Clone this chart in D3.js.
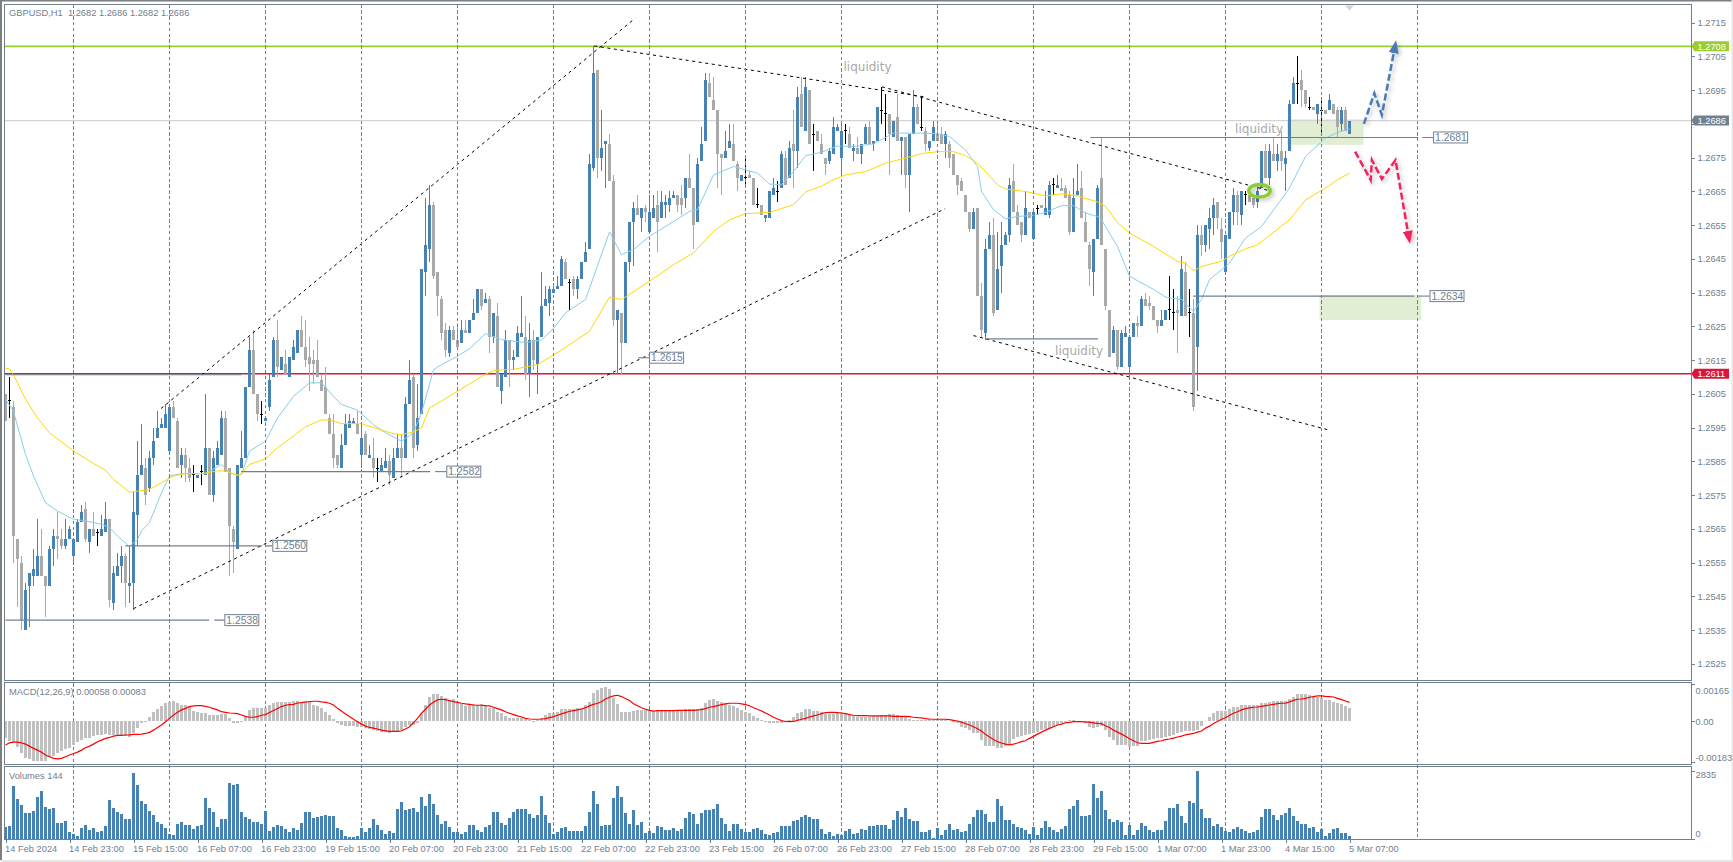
<!DOCTYPE html>
<html>

<head>
  <meta charset="utf-8">
  <style>
    html, body { margin: 0; padding: 0; background: #fff; overflow: hidden; }
    svg { display: block; }
    text { font-family: "Liberation Sans", sans-serif; font-size: 9.3px; fill: #708090; }
    .flag { fill: #fff; }
    .liq { fill: #a9a9a9; font-size: 12px; font-family: "DejaVu Sans", sans-serif; }
  </style>
</head>

<body>
  <svg id="chart" width="1733" height="862"></svg>

  <script src="https://d3js.org/d3.v7.min.js"></script>
  <script>
    // prices are 4-digit quotes written without the "1." (2605 = 1.2605), one row = 16 H1 bars
    const opens = [
      2605,2603,2601,2562,2555,2535,2548,2551,2551,2557,2551,2548,2559,2563,2562,2560,
      2562,2557,2561,2567,2571,2561,2565,2564,2563,2564,2568,2543,2551,2554,2557,2548,
      2549,2569,2581,2583,2577,2586,2592,2595,2595,2588,2601,2597,2584,2587,2583,2581,
      2580,2582,2581,2589,2575,2584,2587,2598,2583,2565,2559,2583,2586,2607,2618,2605,
      2599,2597,2601,2610,2621,2612,2614,2610,2615,2617,2624,2619,2616,2615,2615,2609,
      2607,2598,2593,2587,2583,2590,2595,2596,2596,2587,2593,2586,2586,2583,2582,2583,
      2585,2580,2586,2589,2586,2602,2610,2590,2599,2641,2648,2661,2641,2633,2624,2617,
      2624,2621,2620,2624,2623,2627,2629,2636,2632,2633,2622,2628,2606,2610,2621,2615,
      2616,2622,2622,2611,2621,2614,2622,2631,2632,2635,2636,2637,2644,2638,2639,2636,
      2639,2644,2648,2672,2701,2675,2679,2679,2668,2627,2629,2620,2644,2656,2660,2657,
      2660,2653,2657,2661,2657,2661,2661,2663,2664,2663,2663,2669,2666,2656,2674,2680,
      2697,2692,2689,2676,2675,2678,2679,2673,2668,2669,2670,2669,2661,2661,2657,2657,
      2664,2665,2666,2675,2669,2679,2677,2694,2683,2695,2682,2683,2679,2675,2674,2676,
      2683,2675,2683,2682,2677,2678,2676,2679,2684,2679,2680,2689,2688,2688,2681,2687,
      2680,2681,2670,2682,2690,2684,2683,2678,2680,2682,2682,2679,2679,2676,2670,2668,
      2664,2659,2654,2660,2634,2623,2648,2652,2630,2643,2649,2652,2668,2659,2656,2652,
      2659,2651,2660,2661,2658,2658,2667,2666,2666,2666,2664,2653,2664,2666,2656,2649,
      2641,2651,2669,2648,2630,2617,2624,2613,2622,2613,2622,2626,2625,2633,2632,2631,
      2627,2625,2627,2630,2629,2630,2628,2641,2629,2629,2619,2652,2649,2654,2657,2662,
      2654,2641,2651,2659,2664,2658,2664,2664,2663,2662,2666,2677,2669,2676,2674,2677,
      2673,2677,2691,2697,2698,2695,2690,2690,2688,2689,2689,2689,2691,2689,2685,2689,
      2682
    ];
    const highs = [
      2605,2610,2603,2562,2557,2549,2552,2559,2568,2565,2551,2560,2565,2570,2565,2568,
      2566,2562,2568,2572,2573,2565,2570,2565,2569,2573,2568,2554,2558,2560,2558,2560,
      2576,2591,2596,2586,2588,2595,2600,2598,2602,2602,2603,2598,2589,2589,2586,2584,
      2581,2584,2605,2589,2588,2591,2600,2600,2583,2566,2584,2594,2607,2622,2624,2605,
      2603,2598,2611,2622,2627,2616,2618,2616,2621,2624,2628,2627,2622,2618,2621,2611,
      2613,2599,2599,2587,2593,2599,2599,2598,2600,2596,2594,2590,2592,2586,2586,2589,
      2587,2589,2593,2593,2604,2615,2611,2608,2642,2663,2667,2662,2641,2634,2626,2625,
      2625,2626,2627,2627,2627,2633,2636,2636,2635,2634,2629,2632,2611,2624,2621,2618,
      2625,2634,2628,2626,2624,2622,2641,2637,2637,2637,2640,2646,2645,2639,2640,2640,
      2644,2650,2676,2708,2701,2689,2680,2682,2670,2630,2629,2644,2656,2662,2664,2660,
      2661,2664,2664,2665,2665,2664,2665,2665,2664,2667,2669,2676,2666,2675,2684,2700,
      2700,2699,2689,2676,2683,2685,2685,2674,2670,2675,2671,2669,2666,2661,2658,2665,
      2669,2668,2677,2677,2680,2689,2696,2699,2699,2695,2685,2683,2682,2675,2678,2687,
      2685,2685,2685,2684,2679,2681,2679,2685,2686,2680,2690,2696,2694,2688,2686,2694,
      2681,2681,2682,2695,2691,2693,2684,2680,2686,2685,2684,2683,2680,2676,2670,2669,
      2664,2659,2660,2660,2638,2651,2656,2657,2653,2656,2653,2669,2673,2661,2656,2665,
      2659,2660,2661,2661,2665,2668,2669,2670,2669,2667,2665,2669,2673,2671,2659,2650,
      2651,2667,2681,2648,2630,2625,2624,2624,2625,2622,2626,2628,2634,2635,2634,2631,
      2627,2630,2630,2640,2636,2634,2646,2644,2636,2633,2655,2655,2655,2660,2663,2662,
      2657,2652,2659,2666,2665,2665,2665,2664,2664,2667,2677,2679,2679,2681,2679,2683,
      2677,2692,2699,2705,2701,2695,2693,2690,2691,2692,2689,2694,2691,2690,2690,2690,
      2686
    ];
    const lows = [
      2597,2598,2555,2542,2535,2535,2536,2548,2551,2551,2539,2548,2554,2556,2559,2559,
      2562,2555,2561,2567,2561,2558,2563,2560,2563,2564,2542,2541,2551,2549,2542,2543,
      2541,2560,2581,2572,2576,2584,2592,2595,2595,2588,2598,2583,2580,2579,2579,2576,
      2580,2578,2581,2575,2573,2584,2587,2582,2551,2552,2559,2583,2586,2607,2605,2597,
      2596,2597,2600,2610,2610,2612,2611,2610,2615,2617,2619,2613,2606,2608,2610,2606,
      2599,2593,2583,2583,2583,2590,2595,2596,2593,2583,2587,2586,2580,2579,2582,2583,
      2578,2580,2586,2580,2586,2602,2586,2588,2599,2634,2644,2639,2628,2621,2616,2616,
      2621,2619,2620,2623,2623,2627,2629,2630,2632,2617,2620,2607,2602,2610,2607,2612,
      2616,2622,2609,2604,2612,2605,2622,2631,2628,2635,2636,2637,2639,2630,2634,2633,
      2639,2644,2648,2671,2669,2671,2666,2668,2625,2611,2611,2620,2641,2643,2658,2653,
      2656,2653,2657,2647,2657,2657,2659,2663,2659,2658,2660,2666,2648,2656,2674,2680,
      2693,2689,2666,2664,2675,2678,2674,2665,2668,2667,2669,2661,2660,2658,2656,2657,
      2664,2662,2666,2667,2669,2666,2672,2684,2683,2679,2671,2680,2676,2670,2673,2676,
      2683,2670,2679,2678,2674,2676,2673,2679,2679,2677,2680,2685,2680,2670,2681,2680,
      2670,2666,2659,2682,2685,2683,2677,2677,2680,2680,2679,2675,2672,2670,2664,2665,
      2659,2653,2654,2634,2622,2621,2648,2628,2630,2635,2649,2650,2659,2655,2650,2652,
      2657,2651,2658,2660,2658,2657,2664,2666,2665,2663,2652,2653,2664,2657,2650,2637,
      2634,2651,2649,2630,2616,2617,2612,2613,2622,2609,2622,2622,2625,2631,2630,2627,
      2623,2625,2627,2627,2624,2617,2628,2628,2622,2600,2606,2646,2647,2648,2652,2654,
      2645,2641,2651,2655,2655,2655,2661,2662,2660,2660,2666,2669,2667,2674,2671,2671,
      2665,2677,2691,2691,2690,2690,2689,2689,2685,2682,2688,2689,2688,2681,2683,2683,
      2682
    ];
    const closes = [
      2597,2603,2563,2556,2538,2547,2552,2553,2557,2551,2548,2559,2563,2562,2560,2562,
      2565,2562,2567,2570,2562,2565,2563,2564,2565,2568,2544,2552,2554,2557,2549,2549,
      2570,2581,2584,2575,2586,2591,2595,2596,2599,2601,2598,2583,2587,2583,2580,2581,
      2581,2582,2589,2575,2586,2589,2598,2582,2566,2561,2584,2586,2607,2618,2605,2599,
      2599,2598,2609,2621,2613,2616,2611,2616,2619,2624,2619,2615,2614,2614,2610,2606,
      2599,2593,2586,2584,2590,2596,2597,2597,2593,2592,2587,2587,2583,2583,2584,2585,
      2581,2586,2589,2586,2602,2609,2589,2598,2642,2649,2661,2640,2634,2623,2618,2624,
      2621,2619,2624,2623,2627,2629,2636,2631,2633,2622,2629,2607,2611,2621,2615,2616,
      2623,2623,2611,2621,2615,2622,2631,2633,2636,2636,2637,2645,2639,2638,2636,2639,
      2644,2647,2673,2700,2675,2678,2680,2668,2627,2630,2620,2644,2656,2660,2658,2660,
      2659,2659,2660,2656,2662,2662,2663,2664,2661,2661,2669,2666,2655,2673,2679,2698,
      2693,2689,2676,2675,2677,2680,2674,2669,2670,2669,2669,2661,2661,2658,2658,2665,
      2666,2665,2676,2667,2678,2677,2693,2684,2696,2679,2682,2680,2676,2673,2677,2684,
      2684,2683,2683,2678,2678,2676,2679,2684,2679,2680,2690,2689,2688,2682,2686,2680,
      2681,2670,2682,2690,2685,2684,2679,2680,2684,2680,2679,2682,2675,2670,2667,2665,
      2659,2654,2659,2634,2624,2648,2652,2629,2642,2649,2652,2667,2659,2655,2652,2660,
      2657,2659,2660,2660,2660,2667,2667,2667,2665,2663,2653,2663,2665,2657,2650,2642,
      2651,2666,2649,2631,2616,2624,2613,2623,2623,2622,2626,2625,2633,2631,2631,2627,
      2625,2627,2630,2630,2629,2629,2642,2628,2629,2601,2652,2649,2655,2657,2661,2657,
      2650,2652,2659,2664,2659,2665,2664,2662,2661,2665,2677,2669,2677,2674,2676,2674,
      2675,2691,2697,2697,2695,2691,2690,2689,2691,2689,2688,2692,2688,2684,2689,2683,
      2686
    ];

    const volumes = [
      476,518,2226,1680,1428,1092,1092,1176,1764,2016,1344,1260,1302,672,672,756,
      280,210,126,462,588,378,462,294,336,546,1638,1302,1134,1050,840,840,
      2772,2268,1596,1470,1176,1008,714,630,462,210,168,630,714,588,588,420,
      546,588,1722,1302,1134,504,840,840,2352,2268,2310,1134,924,840,714,714,
      630,1176,336,504,588,546,420,294,462,378,672,1134,1134,882,924,966,
      1008,966,966,462,378,126,84,84,126,462,294,462,840,588,378,210,
      336,252,1260,1554,1218,1260,1302,1134,1764,1386,1890,1470,1008,630,756,504,
      294,294,210,294,588,588,378,294,504,588,1134,1134,672,588,882,1134,
      1260,1260,1260,1050,882,1008,1806,1008,672,210,294,462,504,336,336,336,
      336,546,1134,2016,1470,546,574,588,1722,2226,1764,1092,630,1218,588,714,
      252,336,252,546,504,378,378,462,336,420,882,1134,1050,630,1092,1218,
      1218,1260,1470,882,630,336,630,630,420,294,294,420,462,378,210,168,
      252,294,546,546,546,756,798,924,1008,924,840,840,420,210,294,126,
      210,168,336,420,210,252,420,378,546,546,588,588,588,420,798,1176,
      924,1302,840,756,756,294,294,378,28,462,168,378,630,378,420,294,
      336,630,924,1218,1218,1050,714,714,1680,1386,798,798,630,504,462,378,
      210,504,168,462,756,504,378,294,420,546,1260,1386,1638,966,966,1008,
      2310,1722,2016,1218,840,714,798,714,168,588,168,378,672,546,378,294,
      378,378,756,1302,1302,1470,966,672,1596,1512,2835,1260,882,882,546,630,
      504,336,294,420,504,420,336,252,294,378,924,1260,1260,1008,798,1008,
      1092,1302,966,756,630,630,462,504,294,420,126,252,420,462,252,252,
      126
    ];

    // MACD main (bars) and signal (line), in 0.00001
    const macdHist = [
      -78,-89,-98,-116,-146,-168,-173,-179,-179,-180,-179,-164,-158,-143,-134,-128,
      -123,-108,-93,-86,-78,-75,-68,-63,-63,-59,-63,-63,-63,-68,-68,-71,
      -56,-33,-11,-3,20,42,53,68,80,87,90,80,72,72,62,47,
      42,38,38,27,27,27,30,30,15,-8,-8,-3,20,50,57,57,
      57,60,72,83,84,84,84,84,90,92,87,84,84,72,68,57,
      42,27,8,-11,-18,-21,-21,-21,-26,-29,-33,-38,-41,-45,-48,-51,
      -56,-51,-48,-41,-29,-18,-18,-11,30,72,107,122,122,113,102,92,
      98,80,75,68,71,75,74,75,74,60,60,42,35,23,12,15,
      15,12,8,5,-3,5,12,27,35,38,41,53,54,54,54,60,
      60,72,87,128,140,147,152,143,102,77,42,39,42,47,50,50,
      50,47,47,50,50,50,50,50,50,50,53,53,53,53,57,80,
      95,98,92,87,80,72,68,60,50,42,35,24,15,5,-3,-8,
      -11,-11,-11,-3,5,17,35,42,53,53,47,47,39,32,30,30,
      35,38,35,30,24,20,20,20,20,23,24,27,27,32,30,27,
      23,20,8,5,5,5,5,8,5,5,5,5,2,-3,-11,-26,
      -33,-41,-56,-56,-86,-113,-113,-113,-120,-120,-113,-108,-83,-71,-66,-63,
      -60,-56,-48,-41,-36,-33,-29,-18,-8,-3,5,5,2,-3,-11,-26,
      -33,-26,-23,-41,-71,-86,-108,-108,-108,-116,-113,-113,-90,-89,-86,-83,
      -78,-78,-71,-68,-63,-56,-48,-45,-45,-45,-41,-23,2,17,35,45,
      45,45,53,62,62,72,72,72,72,72,83,80,84,89,90,90,
      90,98,110,122,122,122,117,114,110,105,95,95,87,80,75,68,
      58
    ];
    const macdSignal = [
      -108,-98,-95,-95,-98,-104,-113,-123,-131,-141,-153,-161,-168,-170,-168,-161,
      -153,-146,-140,-131,-120,-113,-104,-93,-86,-78,-74,-68,-65,-65,-63,-62,
      -60,-60,-59,-56,-51,-41,-29,-18,-3,12,27,39,50,57,65,68,
      69,69,66,62,56,50,42,39,36,35,33,27,21,17,17,20,
      26,29,38,47,56,65,71,74,75,81,83,86,87,89,89,86,
      84,80,72,57,45,32,20,8,-3,-14,-23,-29,-32,-36,-41,-44,
      -47,-47,-47,-44,-36,-26,-8,12,35,53,72,84,95,98,96,92,
      87,84,80,77,75,72,71,71,69,68,62,56,50,42,35,29,
      23,18,12,9,8,8,9,11,15,20,26,32,38,44,47,50,
      54,60,68,75,80,87,99,107,113,116,110,101,92,78,69,60,
      53,48,45,47,47,47,47,47,48,48,48,48,48,50,51,56,
      62,65,69,74,77,80,80,80,77,74,69,60,53,45,36,27,
      17,9,2,-2,-3,-2,3,8,12,18,23,27,33,38,39,39,
      38,36,33,29,26,24,24,24,23,23,23,23,23,23,21,21,
      21,21,20,17,15,14,11,9,8,8,8,8,6,3,0,-5,
      -11,-18,-26,-35,-45,-60,-72,-83,-93,-99,-104,-107,-104,-99,-93,-89,
      -78,-69,-59,-50,-41,-33,-26,-18,-14,-8,-6,-3,-3,-3,-5,-5,
      -8,-11,-12,-21,-29,-41,-50,-59,-69,-80,-89,-98,-101,-101,-101,-96,
      -92,-89,-84,-81,-77,-72,-68,-62,-59,-56,-50,-45,-32,-23,-11,-2,
      8,15,26,35,42,50,56,59,62,63,66,69,72,75,78,80,
      80,86,93,98,99,102,107,110,113,113,111,110,108,102,96,90,
      84
    ];

    // moving averages read at the bends of the curves
    const fastMaBars = [0,2,3,5,7,10,13,17,20,24,26,28,31,33,34,36,39,41,44,50,54,56,58,59,61,65,68,72,76,79,82,84,88,92,95,99,102,104,107,109,113,116,120,124,130,134,137,140,145,148,151,154,157,161,167,171,173,177,182,185,188,191,194,197,200,204,208,212,217,222,229,233,236,240,243,244,247,250,253,257,260,264,267,270,273,274,278,281,284,287,290,294,297,299,301,304,306,310,314,321,325,330,333,336];
    const fastMaPrices = [2603.4,2599.9,2595.5,2587.1,2580.7,2572.8,2570.3,2567.9,2567.4,2566.4,2565.4,2562.9,2559.8,2561.9,2564.4,2566.9,2575.7,2580.7,2581.4,2581.4,2584.1,2581.7,2580.9,2581.2,2588.1,2591,2597.9,2604.3,2608.3,2608.3,2604.3,2601.9,2600.2,2595.9,2593.5,2591,2593.5,2599.4,2612.2,2613.7,2616.2,2618.4,2622.9,2621.1,2620.2,2621,2624.4,2629,2633,2643,2653,2646.3,2647.8,2651.7,2656.1,2659.1,2659.6,2669.9,2672.4,2671.4,2670.4,2667.2,2667,2670.9,2675.6,2676.6,2678.5,2678.3,2679.1,2682.3,2682.3,2682.1,2681.3,2677.3,2672.4,2665,2659.6,2656.9,2657.6,2657.9,2658.8,2660.8,2660.8,2658.6,2657.6,2656.6,2648.7,2639.9,2637.9,2636,2633.7,2633,2629.5,2633,2638.9,2641.8,2643.8,2651.2,2654.6,2666,2675.4,2680.8,2682.5,2683.5];
    const slowMaBars = [0,1,2,3,5,8,11,17,22,25,27,31,33,36,39,42,45,49,53,55,58,59,61,65,68,72,75,79,81,84,89,93,97,99,102,104,106,109,116,120,122,127,133,139,146,151,154,161,167,172,177,181,185,191,197,200,204,207,210,215,220,225,229,233,237,240,243,245,248,250,255,260,264,268,273,275,278,281,287,293,295,297,299,304,306,310,313,321,325,330,333,336];
    const slowMaPrices = [2612.7,2612.4,2610.7,2608.3,2603.5,2597.9,2593.5,2588.1,2584.4,2582.4,2579.7,2575.9,2576.2,2576.7,2578.7,2580.7,2581.4,2581.4,2582.2,2582.2,2580.9,2581.4,2584.1,2585.8,2589.1,2592.5,2595.3,2597.3,2597.3,2596.2,2596.2,2594.7,2593.2,2593,2593.7,2595,2600.9,2602.9,2608,2610.8,2612,2612.3,2613.7,2618,2623.6,2633.7,2633,2638.4,2643.3,2646.8,2653.2,2656.6,2658.4,2658.8,2661.1,2664.8,2666.6,2668.5,2669.9,2670.9,2673.4,2674.9,2676.2,2676.8,2676.8,2675.6,2673.4,2670.9,2667,2665.7,2665,2663.7,2664.3,2663.7,2661.9,2660.6,2655.8,2652.7,2648.7,2644.3,2643.8,2641.5,2642.8,2644.3,2645.8,2648,2649.2,2656.6,2662.5,2666,2668.5,2670.4];

    const priceTicks = [2715,2705,2695,2685,2675,2665,2655,2645,2635,2625,2615,2605,2595,2585,2575,2565,2555,2545,2535,2525];
    const timeLabels = ["14 Feb 2024","14 Feb 23:00","15 Feb 15:00","16 Feb 07:00","16 Feb 23:00","19 Feb 15:00","20 Feb 07:00","20 Feb 23:00","21 Feb 15:00","22 Feb 07:00","22 Feb 23:00","23 Feb 15:00","26 Feb 07:00","26 Feb 23:00","27 Feb 15:00","28 Feb 07:00","28 Feb 23:00","29 Feb 15:00","1 Mar 07:00","1 Mar 23:00","4 Mar 15:00","5 Mar 07:00"];
    const separatorBars = [17,41,65,89,113,137,161,185,209,233,257,281,305,329,353];

    // hand drawn objects, in bar number / price
    const trendLines = [
      [38.9,2600.7,157.4,2716.3],
      [32,2541.4,234.9,2659.9],
      [147.2,2708.1,229.9,2693],
      [219.1,2696,315.7,2665.3],
      [242,2622.3,331.2,2594.2]
    ];
    // price, line from, line to, stub from, stub to / label
    const levels = [
      [2538,0,50.9,52.2,54.7],
      [2560,29.9,64.2,65,66.7],
      [2582,58.9,106.2,107.4,110.2],
      [2615,null,null,158.2,160.9],
      [2681,271.2,353.2,354.2,356.9],
      [2634,296.9,352.2,353.2,356]
    ];
    const plainLevels = [[2610.7,0,59],[2621.3,244.9,273.1]];
    const zones = [[320.4,339.5,2686.4,2678.8],[328.5,353.9,2634.3,2626.9]];
    const liquidityNotes = [[209.5,2701.9],[307.4,2683.5],[262.4,2617.7]];
    const bluePath = [[339.6,2685],[342.2,2694.1],[344.1,2687.7],[347.1,2706.3]];
    const redPath = [[337.4,2676.8],[341.3,2668.4],[341.6,2674.3],[344.1,2668.7],[347.5,2674.3],[350.6,2653]];
    const ellipseAt = [313.5,2665.2];

    const width = 1733, height = 862;
    const frameLeft = 4.5, frameRight = 1691.5;
    const mainTop = 4.5, mainBottom = 680.5;
    const macdTop = 682.5, macdBottom = 764.5;
    const volTop = 766.5, volBottom = 839.5;

    const svg = d3.select("#chart");
    const fmt = v => (1 + v / 10000).toFixed(4);

    const x = d3.scaleLinear().domain([0, 336]).range([5.5, 1349.5]);
    const y = d3.scaleLinear().domain([2715, 2525]).range([22.7, 664]);
    const yMacd = d3.scaleLinear().domain([0.001725, -0.001935]).range([682.7, 764]);
    const yVol = d3.scaleLinear().domain([0, 2835]).range([838.5, 771]);

    const defs = svg.append("defs");
    defs.append("clipPath").attr("id", "mainClip").append("rect")
      .attr("x", frameLeft).attr("y", mainTop)
      .attr("width", frameRight - frameLeft).attr("height", mainBottom - mainTop);
    const shadow = defs.append("filter").attr("id", "soft")
      .attr("x", "-50%").attr("y", "-50%").attr("width", "200%").attr("height", "200%");
    shadow.append("feDropShadow").attr("dx", 2).attr("dy", 2).attr("stdDeviation", 2)
      .attr("flood-color", "#000").attr("flood-opacity", 0.25);
    [["headBlue", "#4a7ab5"], ["headRed", "#f2245f"]].forEach(m => {
      defs.append("marker").attr("id", m[0]).attr("markerUnits", "userSpaceOnUse")
        .attr("markerWidth", 14).attr("markerHeight", 10).attr("refX", 1).attr("refY", 5)
        .attr("orient", "auto")
        .append("path").attr("d", "M0,0L13,5L0,10Z").attr("fill", m[1]);
    });

    // window edges
    svg.append("rect").attr("width", width).attr("height", 1.5).attr("fill", "#7f7f7f");
    svg.append("rect").attr("width", 2).attr("height", height).attr("fill", "#7f7f7f");
    svg.append("rect").attr("y", 860).attr("width", width).attr("height", 2).attr("fill", "#e6e6e6");
    svg.append("rect").attr("x", 1731.5).attr("width", 1.5).attr("height", height).attr("fill", "#e6e6e6");

    const main = svg.append("g").attr("clip-path", "url(#mainClip)");

    // zones sit under everything
    main.selectAll(".zone").data(zones).join("rect")
      .attr("class", "zone")
      .attr("x", d => x(d[0])).attr("width", d => x(d[1]) - x(d[0]))
      .attr("y", d => y(d[2])).attr("height", d => y(d[3]) - y(d[2]))
      .attr("fill", "#e2eed3");

    // period separators run through all three windows
    svg.append("g").selectAll("line").data(separatorBars).join("line")
      .attr("x1", d => x(d)).attr("x2", d => x(d))
      .attr("y1", mainTop).attr("y2", volBottom)
      .attr("stroke", "#708090").attr("stroke-width", 1).attr("stroke-dasharray", "3.4,2.4")
      .attr("shape-rendering", "crispEdges");

    // full width lines
    [[2708, "#9acd32", 1.6], [2686, "#d3d3d3", 1.4], [2611, "#dc143c", 1.4]].forEach(l => {
      main.append("line").attr("x1", frameLeft).attr("x2", frameRight)
        .attr("y1", y(l[0])).attr("y2", y(l[0]))
        .attr("stroke", l[1]).attr("stroke-width", l[2]);
    });

    // candles
    const bars = d3.range(opens.length);
    const candles = main.append("g").attr("shape-rendering", "crispEdges");
    const candleColor = i => closes[i] > opens[i] ? "#4682b4" : closes[i] < opens[i] ? "#a9a9a9" : "#000";
    candles.selectAll(".wick").data(bars).join("line")
      .attr("class", "wick")
      .attr("x1", i => x(i)).attr("x2", i => x(i))
      .attr("y1", i => y(highs[i])).attr("y2", i => y(lows[i]))
      .attr("stroke", candleColor).attr("stroke-width", 1);
    candles.selectAll(".body").data(bars.filter(i => opens[i] !== closes[i])).join("rect")
      .attr("class", "body")
      .attr("x", i => x(i) - 1.5).attr("width", 3)
      .attr("y", i => y(Math.max(opens[i], closes[i])))
      .attr("height", i => Math.abs(y(opens[i]) - y(closes[i])))
      .attr("fill", candleColor);
    candles.selectAll(".doji").data(bars.filter(i => opens[i] === closes[i])).join("line")
      .attr("class", "doji")
      .attr("x1", i => x(i) - 1.5).attr("x2", i => x(i) + 1.5)
      .attr("y1", i => y(opens[i])).attr("y2", i => y(opens[i]))
      .attr("stroke", "#000").attr("stroke-width", 1);

    // moving averages
    const maLine = d3.line().x(d => x(d[0])).y(d => y(d[1]));
    main.append("path").attr("d", maLine(d3.zip(fastMaBars, fastMaPrices)))
      .attr("fill", "none").attr("stroke", "#87ceeb").attr("stroke-width", 1);
    main.append("path").attr("d", maLine(d3.zip(slowMaBars, slowMaPrices)))
      .attr("fill", "none").attr("stroke", "#ffd700").attr("stroke-width", 1);

    // trend lines
    main.selectAll(".trend").data(trendLines).join("line")
      .attr("class", "trend")
      .attr("x1", d => x(d[0])).attr("y1", d => y(d[1]))
      .attr("x2", d => x(d[2])).attr("y2", d => y(d[3]))
      .attr("stroke", "#000").attr("stroke-width", 1).attr("stroke-dasharray", "3,3.6");

    // levels with their boxed labels
    main.selectAll(".plain").data(plainLevels).join("line")
      .attr("class", "plain")
      .attr("x1", d => x(d[1])).attr("x2", d => x(d[2]))
      .attr("y1", d => y(d[0])).attr("y2", d => y(d[0]))
      .attr("stroke", "#708090").attr("stroke-width", 1.2);
    levels.forEach(l => {
      const g = main.append("g");
      const ly = y(l[0]) - (l[0] === 2615 ? 2.5 : 0);
      if (l[1] !== null) {
        g.append("line").attr("x1", x(l[1])).attr("x2", x(l[2])).attr("y1", ly).attr("y2", ly)
          .attr("stroke", "#708090").attr("stroke-width", 1.1);
      }
      g.append("line").attr("x1", x(l[3])).attr("x2", x(l[4])).attr("y1", ly).attr("y2", ly)
        .attr("stroke", "#708090").attr("stroke-width", 1.1);
      g.append("rect").attr("x", x(l[4]) + 0.5).attr("y", ly - 5.5).attr("width", 34).attr("height", 11)
        .attr("fill", "#fff").attr("stroke", "#708090").attr("stroke-width", 1);
      g.append("text").attr("x", x(l[4]) + 2).attr("y", ly + 3.6).style("font-size", "10.4px").text(fmt(l[0]));
    });

    main.selectAll(".liq").data(liquidityNotes).join("text")
      .attr("class", "liq")
      .attr("x", d => x(d[0])).attr("y", d => y(d[1]) + 4)
      .text("liquidity");

    // what-if arrows and the touch marker
    const arrowLine = d3.line().x(d => x(d[0])).y(d => y(d[1]));
    main.append("path").attr("d", arrowLine(bluePath))
      .attr("fill", "none").attr("stroke", "#4a7ab5").attr("stroke-width", 2.5)
      .attr("stroke-dasharray", "7,3").attr("marker-end", "url(#headBlue)").attr("filter", "url(#soft)");
    main.append("path").attr("d", arrowLine(redPath))
      .attr("fill", "none").attr("stroke", "#f2245f").attr("stroke-width", 2.5)
      .attr("stroke-dasharray", "7,3").attr("marker-end", "url(#headRed)").attr("filter", "url(#soft)");
    main.append("ellipse")
      .attr("cx", x(ellipseAt[0])).attr("cy", y(ellipseAt[1])).attr("rx", 10.7).attr("ry", 6.3)
      .attr("fill", "none").attr("stroke", "#8fcc30").attr("stroke-width", 3.5).attr("filter", "url(#soft)");

    // shift marker at the top of the window
    svg.append("path")
      .attr("d", d3.line()([[x(336) - 4.5, mainTop + 1], [x(336) + 4.5, mainTop + 1], [x(336), mainTop + 6]]) + "Z")
      .attr("fill", "#d3d3d3");

    // MACD window
    const macd = svg.append("g");
    macd.append("g").attr("shape-rendering", "crispEdges")
      .selectAll("rect").data(macdHist).join("rect")
      .attr("x", (d, i) => x(i) - 1.5).attr("width", 3)
      .attr("y", d => Math.min(yMacd(d / 1e5), yMacd(0)))
      .attr("height", d => Math.abs(yMacd(d / 1e5) - yMacd(0)))
      .attr("fill", "#c0c0c0");
    macd.append("path")
      .attr("d", d3.line().x((d, i) => x(i)).y(d => yMacd(d / 1e5))(macdSignal))
      .attr("fill", "none").attr("stroke", "#ff0000").attr("stroke-width", 1.2);

    // volume window
    svg.append("g").attr("shape-rendering", "crispEdges")
      .selectAll("rect").data(volumes).join("rect")
      .attr("x", (d, i) => x(i) - 1.5).attr("width", 3)
      .attr("y", d => yVol(d))
      .attr("height", d => yVol(0) - yVol(d))
      .attr("fill", "#4682b4");

    // frames
    [[mainTop, mainBottom], [macdTop, macdBottom], [volTop, volBottom]].forEach(f => {
      svg.append("rect").attr("x", frameLeft).attr("y", f[0])
        .attr("width", frameRight - frameLeft).attr("height", f[1] - f[0])
        .attr("fill", "none").attr("stroke", "#708090").attr("stroke-width", 1)
        .attr("shape-rendering", "crispEdges");
    });

    // axes
    const styleAxis = g => {
      g.select(".domain").remove();
      g.selectAll("line").attr("stroke", "#708090").attr("shape-rendering", "crispEdges");
      g.selectAll("text").attr("fill", "#708090");
    };
    // 1.2685 sits right behind the current price flag, only its tick shows
    svg.append("g").attr("transform", `translate(${frameRight},0)`)
      .call(d3.axisRight(y).tickValues(priceTicks).tickFormat(d => d === 2685 ? "" : fmt(d)).tickSize(3).tickPadding(3))
      .call(styleAxis);

    const macdAxis = svg.append("g").attr("transform", `translate(${frameRight},0)`)
      .call(d3.axisRight(yMacd).tickValues([0.00165, 0, -0.00183]).tickFormat(d => d === 0 ? "0.00" : d.toFixed(5)).tickSize(3).tickPadding(1))
      .call(styleAxis);
    macdAxis.selectAll("text").attr("dy", d => d > 0 ? "0.95em" : d < 0 ? "-0.15em" : "0.32em");

    const volAxis = svg.append("g").attr("transform", `translate(${frameRight},0)`)
      .call(d3.axisRight(yVol).tickValues([0, 2835]).tickFormat(d3.format("d")).tickSize(3).tickPadding(1))
      .call(styleAxis);
    volAxis.selectAll("text").attr("dy", d => d > 0 ? "0.7em" : "-0.2em");

    const timeAxis = svg.append("g").attr("transform", `translate(0,${volBottom})`)
      .call(d3.axisBottom(x).tickValues(timeLabels.map((d, i) => i * 16)).tickFormat((d, i) => timeLabels[i]).tickSize(3).tickPadding(3))
      .call(styleAxis);
    timeAxis.selectAll("text").attr("text-anchor", "start").attr("dx", "-0.1em");

    // current price flags on the axis
    [[2708, "#9acd32"], [2686, "#708090"], [2611, "#dc143c"]].forEach(f => {
      const fy = y(f[0]);
      const flagPath = d3.path();
      flagPath.moveTo(frameRight, fy);
      flagPath.lineTo(frameRight + 3, fy - 5);
      flagPath.lineTo(1729, fy - 5);
      flagPath.lineTo(1729, fy + 5);
      flagPath.lineTo(frameRight + 3, fy + 5);
      flagPath.closePath();
      svg.append("path").attr("d", flagPath.toString()).attr("fill", f[1]);
      svg.append("text").attr("class", "flag").attr("x", 1697.5).attr("y", fy + 3.4).text(fmt(f[0]));
    });

    // window titles
    svg.append("text").attr("x", 9).attr("y", 16).text("GBPUSD,H1  1.2682 1.2686 1.2682 1.2686").attr("xml:space", "preserve");
    svg.append("text").attr("x", 9).attr("y", 695).text("MACD(12,26,9) 0.00058 0.00083");
    svg.append("text").attr("x", 9).attr("y", 779).text("Volumes 144");
  </script>
</body>

</html>
